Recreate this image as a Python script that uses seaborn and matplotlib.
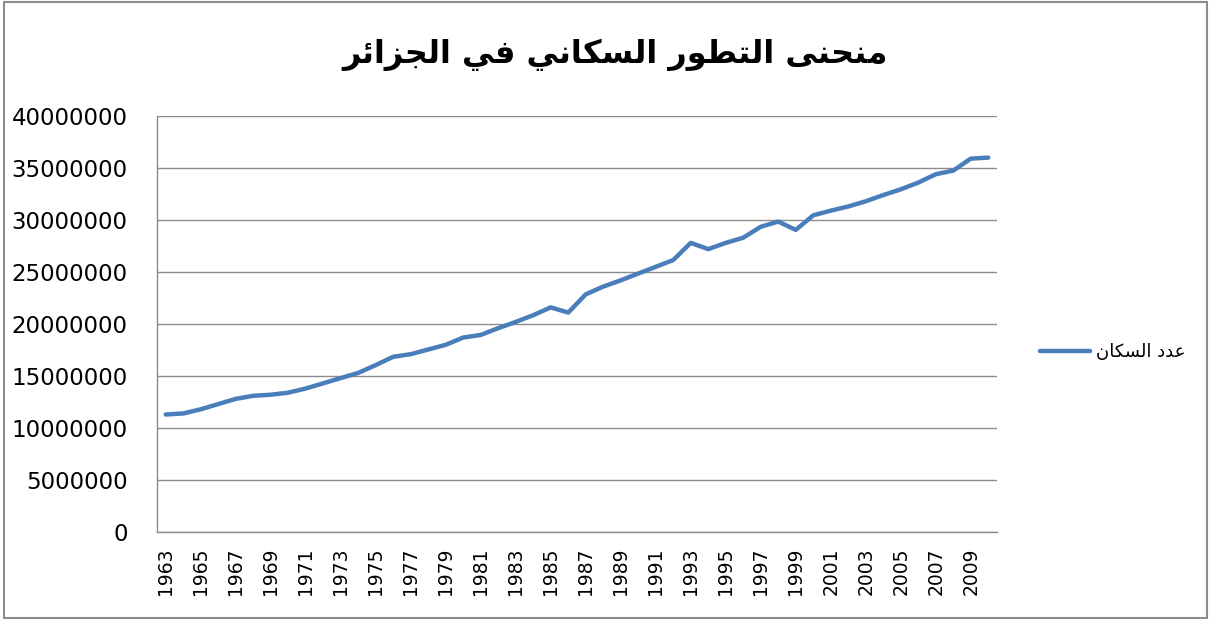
import pandas as pd
import seaborn as sns
import matplotlib.pyplot as plt
from matplotlib.patches import Rectangle

# Arabic text in visual order with presentation forms (matplotlib has no shaping)
def arabic_visual(forms):
    return "".join(chr(c) for c in forms)[::-1]

# "منحنى التطور السكاني في الجزائر"
titre = arabic_visual([0xFEE3, 0xFEE8, 0xFEA4, 0xFEE8, 0xFEF0, 0x20,
                       0xFE8D, 0xFEDF, 0xFE98, 0xFEC4, 0xFEEE, 0xFEAD, 0x20,
                       0xFE8D, 0xFEDF, 0xFEB4, 0xFEDC, 0xFE8E, 0xFEE7, 0xFEF2, 0x20,
                       0xFED3, 0xFEF2, 0x20,
                       0xFE8D, 0xFEDF, 0xFEA0, 0xFEB0, 0xFE8D, 0xFE8B, 0xFEAE])
# "عدد السكان"
serie_nom = arabic_visual([0xFECB, 0xFEAA, 0xFEA9, 0x20,
                           0xFE8D, 0xFEDF, 0xFEB4, 0xFEDC, 0xFE8E, 0xFEE5])

annees = list(range(1963, 2011))
population = [11300000, 11400000, 11800000, 12300000, 12800000, 13100000, 13200000, 13400000,
              13800000, 14300000, 14800000, 15300000, 16050000, 16850000, 17100000, 17550000,
              18000000, 18700000, 18950000, 19600000, 20200000, 20850000, 21600000, 21100000,
              22850000, 23600000, 24200000, 24850000, 25500000, 26150000, 27800000, 27200000,
              27800000, 28300000, 29350000, 29850000, 29050000, 30450000, 30900000, 31300000,
              31800000, 32400000, 32950000, 33600000, 34400000, 34750000, 35900000, 36000000]

df = pd.DataFrame({"annee": annees, "population": population})

sns.set_style("white")
plt.rcParams['font.family'] = ['DejaVu Sans']
plt.rcParams['text.color'] = 'black'
plt.rcParams['xtick.labelcolor'] = 'black'
plt.rcParams['ytick.labelcolor'] = 'black'

fig = plt.figure(figsize=(12.11, 6.19), dpi=100)
ax = fig.add_axes([0.1296, 0.1405, 0.6937, 0.6721])

sns.lineplot(data=df, x="annee", y="population", color="#4A7EBB", linewidth=3.2,
             label=serie_nom, ax=ax, solid_capstyle="round")

gris = "#8C8C8C"
ax.set_ylim(0, 40000000)
ax.set_yticks(range(0, 40000001, 5000000))
ax.set_yticklabels([str(v) for v in range(0, 40000001, 5000000)], fontsize=16.5)
ax.yaxis.grid(True, color=gris, linewidth=1)
ax.set_xlim(1962.5, 2010.5)
ax.set_xticks(annees[::2])
ax.set_xticklabels([str(a) for a in annees[::2]], rotation=90, fontsize=13.5)
ax.set_xticks([a - 0.5 for a in annees] + [2010.5], minor=True)
ax.tick_params(axis="x", which="major", length=0, pad=11)
ax.tick_params(axis="x", which="minor", length=8, color=gris, direction="out")
ax.tick_params(axis="y", length=7, color=gris, direction="out", pad=14)
ax.set_xlabel("")
ax.set_ylabel("")
for side in ["top", "right"]:
    ax.spines[side].set_visible(False)
for side in ["left", "bottom"]:
    ax.spines[side].set_color(gris)
    ax.spines[side].set_linewidth(1)

ax.legend(loc="center left", bbox_to_anchor=(0.845, 0.431), bbox_transform=fig.transFigure,
          frameon=False, fontsize=13, handlelength=2.8, handletextpad=0.3)

fig.text(0.508, 0.911, titre, ha="center", va="center", fontsize=23, fontweight="bold")

fig.patches.append(Rectangle((0.003, 0.002), 0.994, 0.994, transform=fig.transFigure,
                             fill=False, edgecolor=gris, linewidth=1.5))

fig.savefig("out.png", dpi=100)
